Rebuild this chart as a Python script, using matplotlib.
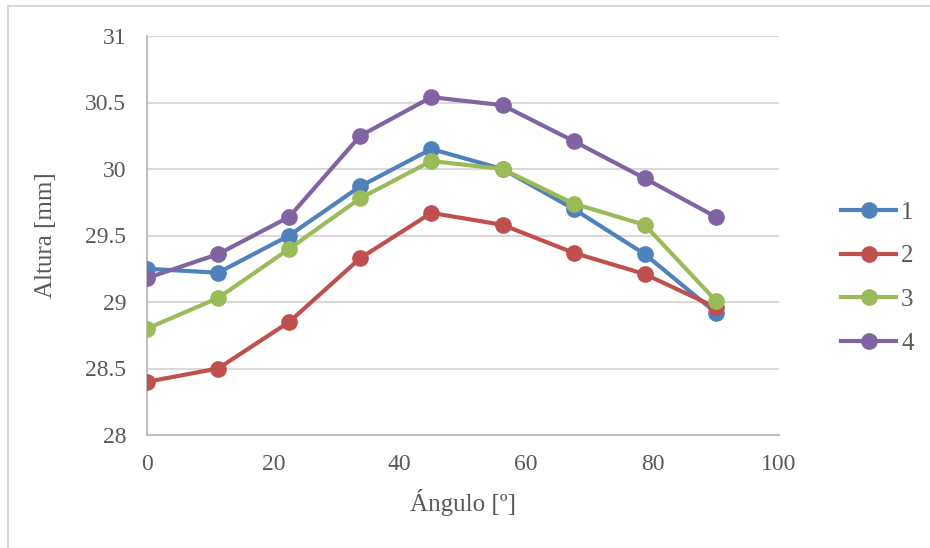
import matplotlib
matplotlib.use("Agg")
import matplotlib.pyplot as plt
from matplotlib.lines import Line2D

# angulo en grados
angulo = [0, 11.25, 22.5, 33.75, 45, 56.25, 67.5, 78.75, 90]

# altura [mm] por serie
serie_1 = [29.25, 29.22, 29.50, 29.87, 30.15, 30.00, 29.70, 29.36, 28.92]
serie_2 = [28.40, 28.50, 28.85, 29.33, 29.67, 29.58, 29.37, 29.21, 28.96]
serie_3 = [28.80, 29.03, 29.40, 29.78, 30.06, 30.00, 29.74, 29.58, 29.01]
serie_4 = [29.18, 29.36, 29.64, 30.25, 30.54, 30.48, 30.21, 29.93, 29.64]

nombres = ["1", "2", "3", "4"]
colores = ["#4F81BD", "#C0504D", "#9BBB59", "#8064A2"]

plt.rcParams['font.family'] = ['Liberation Serif', 'DejaVu Serif']
txt = "#595959"

fig = plt.figure(figsize=(9.3, 5.48), dpi=100)
ax = fig.add_axes([147/930, 1 - 435/548, (779 - 147)/930, (435 - 36)/548])

for ys, c in zip([serie_1, serie_2, serie_3, serie_4], colores):
    ax.plot(angulo, ys, color=c, lw=3, marker='o', ms=11, zorder=3)

ax.set_xlim(0, 100)
ax.set_ylim(28, 31)
ax.set_xticks([0, 20, 40, 60, 80, 100])
ax.set_yticks([28, 28.5, 29, 29.5, 30, 30.5, 31])
ax.set_yticklabels(["28", "28.5", "29", "29.5", "30", "30.5", "31"])
ax.grid(axis='y', color="#D9D9D9", lw=1.5)
ax.set_axisbelow(True)
for s in ['top', 'right']:
    ax.spines[s].set_visible(False)
for s in ['left', 'bottom']:
    ax.spines[s].set_color("#BFBFBF")
    ax.spines[s].set_linewidth(1.5)
ax.tick_params(length=0, labelsize=17, colors=txt)
ax.tick_params(axis='x', pad=14)
ax.tick_params(axis='y', pad=15)
ax.set_xlabel("Ángulo [º]", fontsize=18, color=txt, labelpad=10)
ax.set_ylabel("Altura [mm]", fontsize=18, color=txt, labelpad=20)

handles = [Line2D([], [], color=c, lw=3, marker='o', ms=11) for c in colores]
leg = fig.legend(handles, nombres, loc='center left', bbox_to_anchor=(831/930, 1 - 278/548),
                 frameon=False, fontsize=18, handlelength=2.2, labelspacing=0.85,
                 handletextpad=0.2, borderaxespad=0)
for t in leg.get_texts():
    t.set_color(txt)

# marco del grafico
fig.add_artist(Line2D([8/930, 8/930], [0, 1 - 6/548], color="#D9D9D9", lw=1.5))
fig.add_artist(Line2D([8/930, 1], [1 - 6/548, 1 - 6/548], color="#D9D9D9", lw=1.5))

fig.savefig("out.png", dpi=100)
